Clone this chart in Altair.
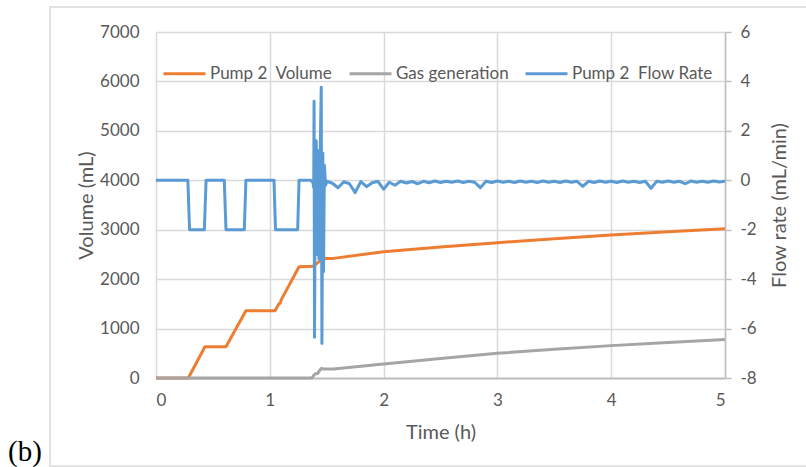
import altair as alt
import pandas as pd

# ---------------- data ----------------
SERIES = ["Pump 2\u00a0 Volume", "Gas generation", "Pump 2\u00a0 Flow Rate"]
COLORS = ["#ED7D31", "#A5A5A5", "#5B9BD5"]

# Pump 2 Volume (mL)
vol_t = [0, 0.284, 0.43, 0.615, 0.79, 1.046, 1.08, 1.092, 1.10, 1.257, 1.38, 1.42,
         1.46, 1.48, 1.56, 2.0, 2.5, 3.0, 3.5, 4.0, 4.5, 5.0]
vol_v = [0, 0, 633, 633, 1362, 1362, 1500, 1515, 1580, 2252, 2260, 2330,
         2400, 2420, 2420, 2555, 2650, 2737, 2815, 2893, 2960, 3020]

# Gas generation (mL)
gas_t = [0, 1.37, 1.385, 1.40, 1.42, 1.44, 1.455, 1.47, 1.56, 2.0, 2.5, 3.0,
         3.5, 4.0, 4.5, 5.0]
gas_v = [0, 0, 50, 85, 90, 160, 196, 180, 180, 283, 395, 500,
         580, 655, 720, 780]

# Pump 2 Flow Rate (mL/min) - steps and disturbance
flow_t = [0, 0.28, 0.295, 0.425, 0.44, 0.60, 0.615, 0.776, 0.79, 1.037, 1.05,
          1.245, 1.257, 1.36, 1.38, 1.386, 1.389, 1.393, 1.400, 1.408, 1.416,
          1.424, 1.432, 1.440, 1.452, 1.458, 1.466, 1.472, 1.480, 1.490]
flow_v = [0, 0, -2, -2, 0, 0, -2, -2, 0, 0, -2,
          -2, 0, 0, -0.1, -0.3, 3.2, -6.35, 0.5, 1.6, -3.0,
          1.2, -3.2, 0.2, 3.76, -6.6, 1.1, -3.7, 0.6, -0.2]

# Flow rate after the disturbance, read every 0.05 h from 1.50 h to 5.00 h
flow_tail = [-0.04, -0.12, -0.30, -0.06, -0.14, -0.50, -0.05, -0.26, -0.10, -0.04,
             -0.36, -0.08, -0.20, -0.04, -0.11, -0.05, -0.14, -0.04, -0.10, -0.03,
             -0.09, -0.04, -0.08, -0.03, -0.09, -0.04, -0.08, -0.30, -0.04, -0.09,
             -0.03, -0.08, -0.04, -0.09, -0.03, -0.08, -0.04, -0.09, -0.03, -0.08,
             -0.04, -0.09, -0.03, -0.08, -0.04, -0.25, -0.04, -0.09, -0.03, -0.08,
             -0.04, -0.09, -0.03, -0.08, -0.04, -0.09, -0.04, -0.33, -0.04, -0.08,
             -0.03, -0.08, -0.04, -0.14, -0.03, -0.08, -0.04, -0.08, -0.03, -0.07,
             -0.04]
flow_tail_t = [round(1.50 + 0.05 * i, 2) for i in range(len(flow_tail))]

x_ticks = [0, 1, 2, 3, 4, 5]
left_ticks = [0, 1000, 2000, 3000, 4000, 5000, 6000, 7000]
right_ticks = [-8, -6, -4, -2, 0, 2, 4, 6]

# ---------------- tables ----------------
vol_df = pd.concat([
    pd.DataFrame({"t": vol_t, "v": vol_v, "series": SERIES[0], "i": range(len(vol_t))}),
    pd.DataFrame({"t": gas_t, "v": gas_v, "series": SERIES[1], "i": range(len(gas_t))}),
], ignore_index=True)

ft = flow_t + flow_tail_t
fv = flow_v + flow_tail
flow_df = pd.DataFrame({"t": ft, "f": fv, "series": SERIES[2], "i": range(len(ft))})

FONT = "Lato"
TXT = "#595959"
GRID = "#d9d9d9"
AX = "#bfbfbf"

color = alt.Color(
    "series:N",
    scale=alt.Scale(domain=SERIES, range=COLORS),
    legend=alt.Legend(
        orient="none", legendX=6, legendY=19, direction="horizontal", title=None,
        symbolType="stroke", symbolSize=1764, symbolStrokeWidth=3,
        labelFont=FONT, labelFontSize=17, labelColor=TXT, labelOffset=3,
        columnPadding=10, padding=0,
    ),
)

xenc = alt.X(
    "t:Q",
    scale=alt.Scale(domain=[0, 5], nice=False),
    axis=alt.Axis(
        values=x_ticks, labelExpr="'' + datum.value", grid=True, gridColor=GRID,
        gridWidth=1.5, domainColor=AX, domainWidth=2, ticks=False, labelPadding=14,
        title="Time (h)", titlePadding=14,
    ),
)

left = alt.Chart(vol_df).mark_line(strokeWidth=3, strokeJoin="round").encode(
    x=xenc,
    y=alt.Y(
        "v:Q",
        scale=alt.Scale(domain=[0, 7000], nice=False),
        axis=alt.Axis(
            orient="left", values=left_ticks, labelExpr="'' + datum.value",
            grid=True, gridColor=GRID, gridWidth=1.5,
            domain=False, ticks=False, labelPadding=17, title="Volume (mL)",
            titlePadding=3,
        ),
    ),
    color=color,
    order=alt.Order("i:Q"),
)

right = alt.Chart(flow_df).mark_line(strokeWidth=3, strokeJoin="round").encode(
    x=alt.X("t:Q", scale=alt.Scale(domain=[0, 5], nice=False)),
    y=alt.Y(
        "f:Q",
        scale=alt.Scale(domain=[-8, 6], nice=False),
        axis=alt.Axis(
            orient="right", values=right_ticks, labelExpr="'' + datum.value",
            grid=False, domain=True,
            domainColor=AX, domainWidth=1.5, ticks=True, tickColor=AX, tickWidth=1.5,
            tickSize=6, labelPadding=9, title="Flow rate (mL/min)",
            titleAngle=-90, titleBaseline="top", titlePadding=13,
        ),
    ),
    color=color,
    order=alt.Order("i:Q"),
)

dummy = pd.DataFrame({"label": ["(b)"]})
frame = alt.Chart(dummy).mark_rect(
    fill="transparent", stroke=GRID, strokeWidth=1.5
).encode(
    x=alt.value(-106), x2=alt.value(720), y=alt.value(-25), y2=alt.value(434)
)
tag = alt.Chart(dummy).mark_text(
    align="left", baseline="alphabetic", font="Liberation Serif", fontSize=29,
    color="#000000"
).encode(text="label:N", x=alt.value(-148), y=alt.value(429))

chart = alt.layer(frame, tag, left, right).resolve_scale(y="independent").properties(
    width=569, height=346,
    autosize=alt.AutoSizeParams(type="none"),
    padding={"left": 156, "top": 32, "right": 81, "bottom": 89},
).configure_view(stroke=None).configure_axis(
    labelFont=FONT, labelFontSize=17, labelColor=TXT,
    titleFont=FONT, titleFontSize=20, titleColor=TXT, titleFontWeight="normal",
)

chart.save("out.html", embed_options={"renderer": "svg", "actions": False})
